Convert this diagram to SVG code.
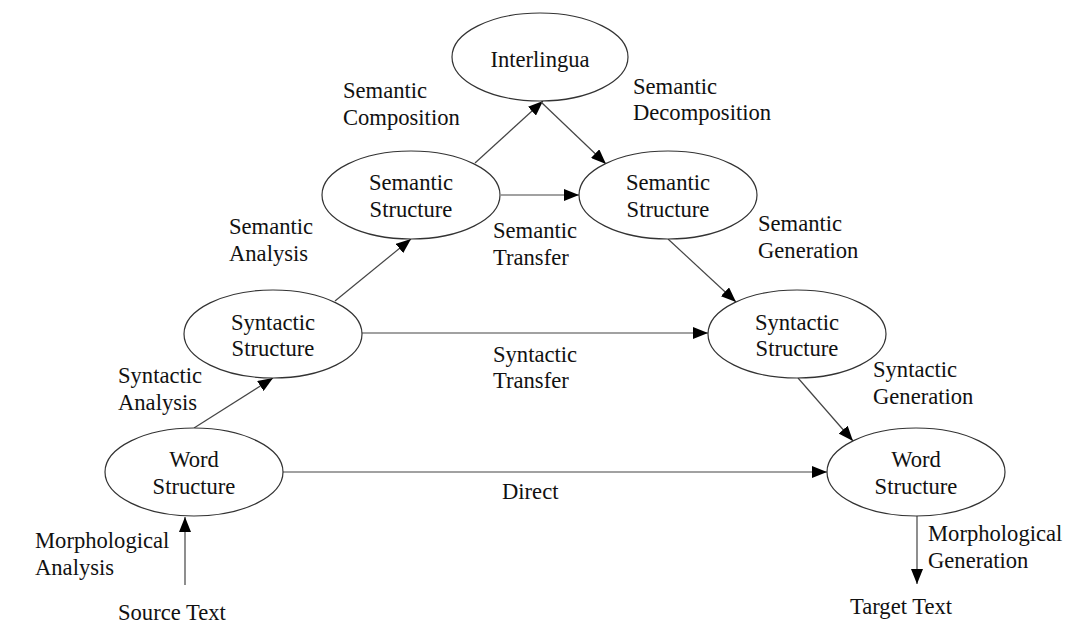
<svg xmlns="http://www.w3.org/2000/svg" width="1088" height="640" viewBox="0 0 1088 640">
<style>
.n ellipse{fill:#fff;stroke:#333;stroke-width:1.2}
text{font-family:"Liberation Serif","Times New Roman","DejaVu Serif",serif;font-size:22.6px;fill:#111}
.c{text-anchor:middle}
.e line{stroke:#444;stroke-width:1.2;marker-end:url(#ah)}
</style>
<defs>
<marker id="ah" markerUnits="userSpaceOnUse" markerWidth="15" markerHeight="12" refX="15" refY="6" orient="auto">
<path d="M0,0 L15,6 L0,12 z" fill="#000"/>
</marker>
</defs>
<rect width="1088" height="640" fill="#fff"/>
<g class="e" id="connectors">
<line x1="185" y1="585" x2="185" y2="517"/>
<line x1="194" y1="428" x2="273" y2="378"/>
<line x1="335" y1="301" x2="411" y2="239"/>
<line x1="475" y1="163" x2="543" y2="101"/>
<line x1="541" y1="102" x2="606" y2="164"/>
<line x1="501" y1="195" x2="579" y2="195"/>
<line x1="668" y1="239" x2="736" y2="302"/>
<line x1="362" y1="333" x2="708" y2="333"/>
<line x1="798" y1="378" x2="853" y2="441"/>
<line x1="283" y1="472" x2="827" y2="472"/>
<line x1="917" y1="516" x2="917" y2="584"/>
</g>
<g class="n" id="interlingua"><ellipse cx="540" cy="57" rx="88" ry="44"/><text class="c" x="540" y="67">Interlingua</text></g>
<g class="n" id="sem-src"><ellipse cx="411" cy="195" rx="89" ry="44"/><text class="c" x="411" y="190">Semantic</text><text class="c" x="411" y="217">Structure</text></g>
<g class="n" id="sem-tgt"><ellipse cx="668" cy="195" rx="89" ry="44"/><text class="c" x="668" y="190">Semantic</text><text class="c" x="668" y="217">Structure</text></g>
<g class="n" id="syn-src"><ellipse cx="273" cy="334" rx="89" ry="44"/><text class="c" x="273" y="330">Syntactic</text><text class="c" x="273" y="356">Structure</text></g>
<g class="n" id="syn-tgt"><ellipse cx="797" cy="334" rx="89" ry="44"/><text class="c" x="797" y="330">Syntactic</text><text class="c" x="797" y="356">Structure</text></g>
<g class="n" id="word-src"><ellipse cx="194" cy="472" rx="89" ry="44"/><text class="c" x="194" y="467">Word</text><text class="c" x="194" y="494">Structure</text></g>
<g class="n" id="word-tgt"><ellipse cx="916" cy="472" rx="89" ry="44"/><text class="c" x="916" y="467">Word</text><text class="c" x="916" y="494">Structure</text></g>
<g id="labels">
<text x="343" y="98">Semantic</text><text x="343" y="125">Composition</text>
<text x="633" y="94">Semantic</text><text x="633" y="120">Decomposition</text>
<text x="229" y="234">Semantic</text><text x="229" y="261">Analysis</text>
<text x="493" y="238">Semantic</text><text x="493" y="265">Transfer</text>
<text x="758" y="231">Semantic</text><text x="758" y="258">Generation</text>
<text x="118" y="383">Syntactic</text><text x="118" y="410">Analysis</text>
<text x="493" y="362">Syntactic</text><text x="493" y="388">Transfer</text>
<text x="873" y="377">Syntactic</text><text x="873" y="404">Generation</text>
<text x="502" y="499">Direct</text>
<text x="35" y="548">Morphological</text><text x="35" y="575">Analysis</text>
<text x="928" y="541">Morphological</text><text x="928" y="568">Generation</text>
<text x="118" y="620">Source Text</text>
<text x="850" y="614">Target Text</text>
</g>
</svg>
